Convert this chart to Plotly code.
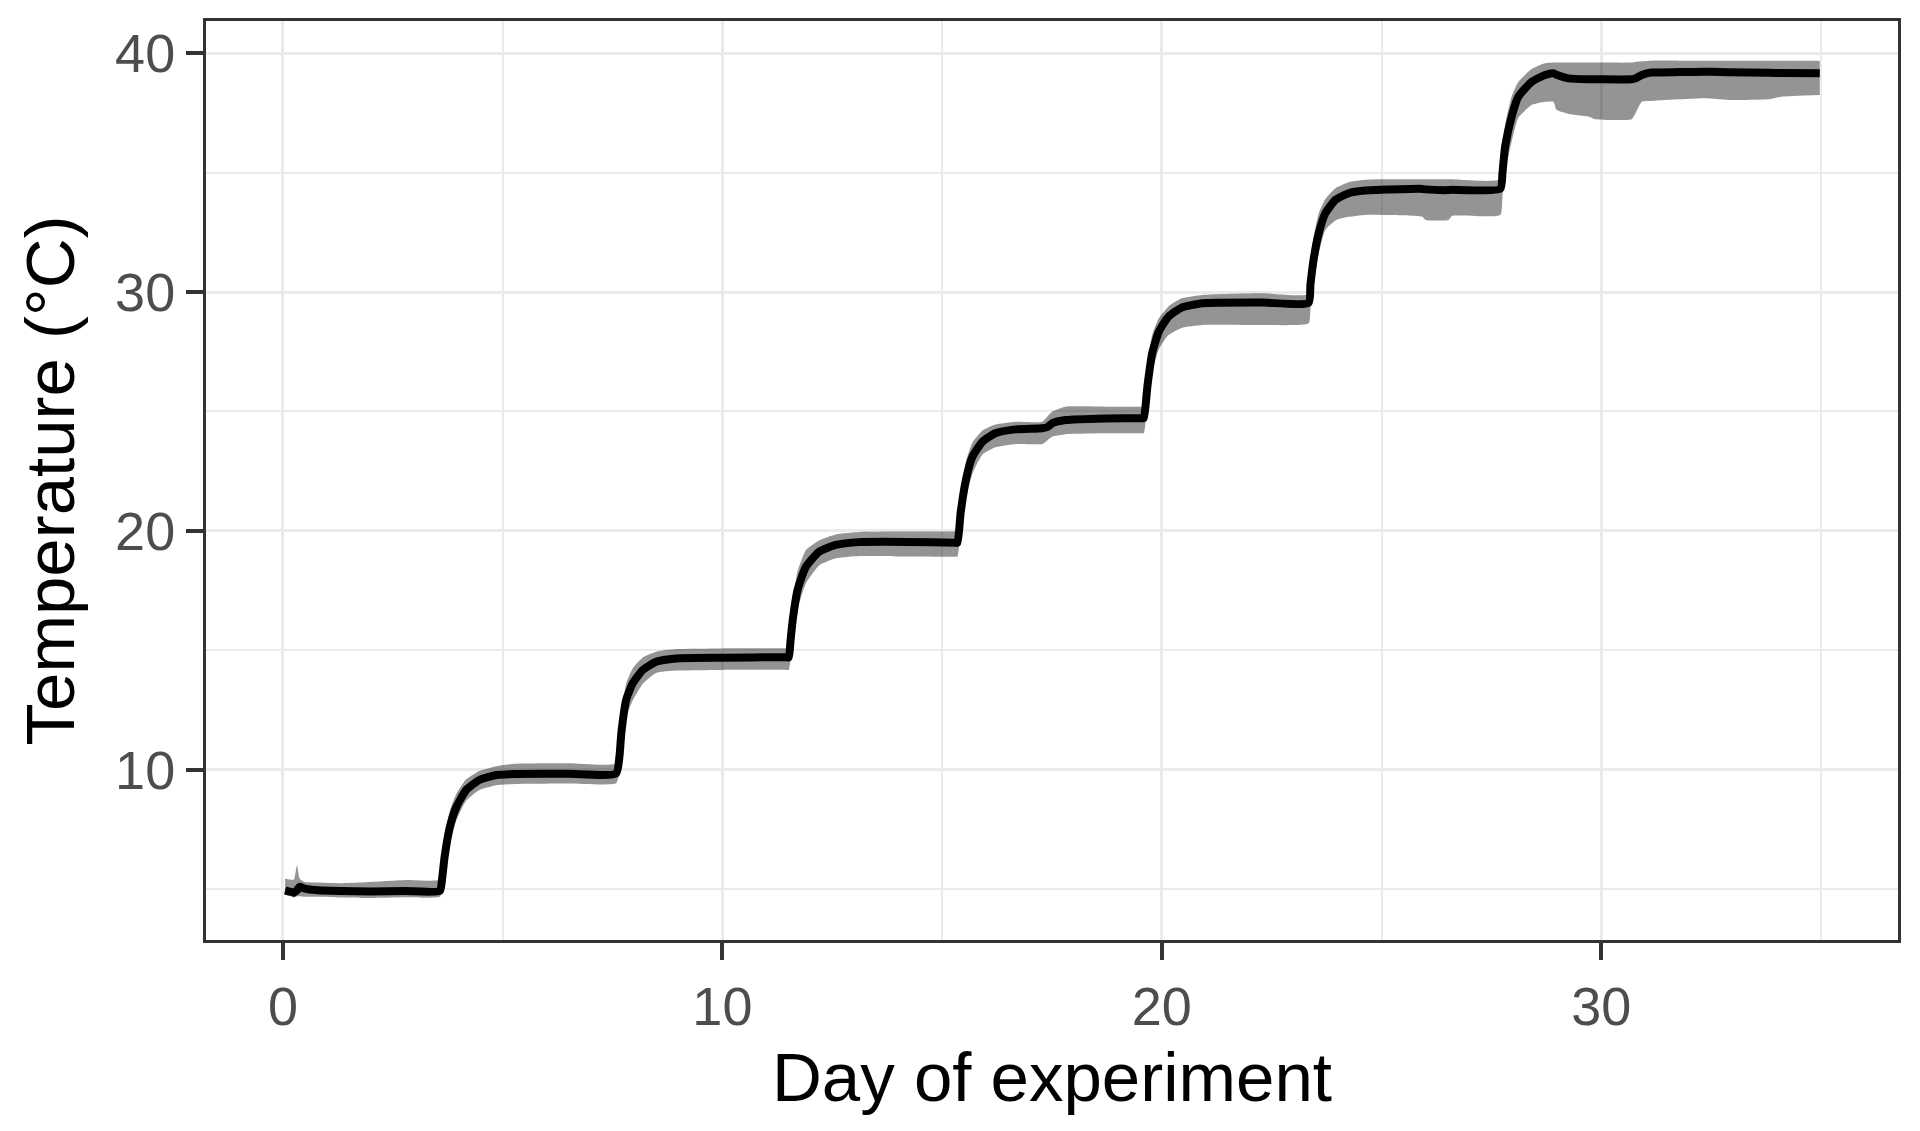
import plotly.graph_objects as go

# ---- data ----
day = [
    0.05, 0.15, 0.25, 0.32, 0.38, 0.5, 0.8, 1.3, 2.0, 2.8, 3.57,
    3.62, 3.68, 3.8, 3.95, 4.17, 4.47, 4.86, 5.3, 6.5, 7.58,
    7.66, 7.7, 7.81, 7.96, 8.19, 8.49, 8.95, 10.0, 11.45,
    11.51, 11.55, 11.6, 11.71, 11.9, 12.2, 12.58, 13.11, 14.2, 15.31,
    15.35, 15.42, 15.54, 15.69, 15.92, 16.21, 16.67, 17.28, 17.4, 17.51, 17.81, 18.72, 19.55,
    19.59, 19.67, 19.78, 19.93, 20.15, 20.45, 20.92, 22.28, 23.34,
    23.38, 23.45, 23.57, 23.72, 23.95, 24.25, 24.63, 25.0, 25.92, 26.0, 26.52, 26.6, 27.7,
    27.75, 27.81, 27.96, 28.11, 28.42, 28.72, 28.91, 28.98, 29.25, 29.7, 29.86, 30.69, 30.78,
    30.92, 31.14, 31.75, 32.36, 32.5, 32.89, 33.8, 34.1, 34.97,
]
temp_mean = [
    4.95, 4.90, 4.85, 4.95, 5.10, 5.02, 4.95, 4.92, 4.90, 4.92, 4.92,
    5.4, 6.36, 7.61, 8.45, 9.15, 9.57, 9.78, 9.82, 9.83, 9.84,
    10.6, 11.52, 12.92, 13.62, 14.18, 14.52, 14.66, 14.69, 14.71,
    14.7, 15.4, 16.27, 17.53, 18.5, 19.13, 19.41, 19.53, 19.54, 19.5,
    19.5, 20.74, 22.13, 23.11, 23.74, 24.09, 24.25, 24.3, 24.35, 24.51, 24.64, 24.71, 24.72,
    24.72, 26.04, 27.44, 28.34, 28.97, 29.35, 29.53, 29.56, 29.55,
    30.3, 31.34, 32.46, 33.3, 33.86, 34.14, 34.25, 34.28, 34.32, 34.3, 34.27, 34.28, 34.32,
    35.0, 36.09, 37.35, 38.18, 38.81, 39.09, 39.16, 39.1, 38.95, 38.91, 38.91, 38.91, 38.95,
    39.09, 39.19, 39.21, 39.22, 39.22, 39.2, 39.18, 39.17, 39.16,
]
temp_upper = [
    5.45, 5.40, 5.40, 6.00, 5.45, 5.30, 5.28, 5.25, 5.30, 5.38, 5.40,
    6.2, 7.2, 8.3, 9.0, 9.6, 9.95, 10.15, 10.25, 10.27, 10.27,
    11.4, 12.3, 13.6, 14.25, 14.7, 14.94, 15.05, 15.08, 15.08,
    15.08, 16.2, 17.1, 18.3, 19.2, 19.6, 19.85, 19.95, 19.97, 19.97,
    19.97, 21.6, 22.9, 23.7, 24.2, 24.45, 24.57, 24.57, 24.8, 25.0, 25.2, 25.2, 25.2,
    25.2, 27.0, 28.2, 28.9, 29.4, 29.74, 29.88, 29.95, 29.92,
    31.3, 32.3, 33.3, 33.9, 34.35, 34.6, 34.7, 34.72, 34.72, 34.72, 34.72, 34.72, 34.72,
    35.9, 37.0, 38.2, 38.8, 39.35, 39.58, 39.61, 39.61, 39.61, 39.61, 39.61, 39.61, 39.63,
    39.66, 39.69, 39.69, 39.69, 39.69, 39.69, 39.69, 39.69, 39.69,
]
temp_lower = [
    4.75, 4.72, 4.65, 4.70, 4.70, 4.68, 4.68, 4.65, 4.63, 4.66, 4.68,
    5.0, 5.7, 6.9, 7.9, 8.7, 9.15, 9.35, 9.4, 9.42, 9.43,
    9.9, 10.8, 12.2, 12.9, 13.6, 14.05, 14.15, 14.18, 14.18,
    14.18, 14.6, 15.4, 16.7, 17.8, 18.55, 18.85, 18.95, 18.93, 18.92,
    18.92, 19.9, 21.3, 22.4, 23.2, 23.5, 23.64, 23.64, 23.8, 23.95, 24.05, 24.09, 24.09,
    24.09, 25.2, 26.6, 27.6, 28.2, 28.5, 28.62, 28.62, 28.69,
    29.3, 30.3, 31.6, 32.6, 33.0, 33.15, 33.23, 33.23, 33.16, 33.02, 33.02, 33.19, 33.23,
    34.0, 35.0, 36.3, 37.3, 37.84, 37.97, 37.97, 37.63, 37.46, 37.35, 37.24, 37.24, 37.5,
    37.97, 38.0, 38.07, 38.12, 38.1, 38.04, 38.07, 38.18, 38.25,
]

x_ticks = [0, 10, 20, 30]
y_ticks = [10, 20, 30, 40]

FONT = "Arial, Liberation Sans, sans-serif"

fig = go.Figure()
fig.add_trace(go.Scatter(
    x=day, y=temp_upper, mode="lines", line=dict(width=0, color="rgba(0,0,0,0)", shape="spline", smoothing=0.5),
    showlegend=False, hoverinfo="skip"))
fig.add_trace(go.Scatter(
    x=day, y=temp_lower, mode="lines", line=dict(width=0, color="rgba(0,0,0,0)", shape="spline", smoothing=0.5),
    fill="tonexty", fillcolor="rgba(0,0,0,0.42)", showlegend=False, hoverinfo="skip"))
fig.add_trace(go.Scatter(
    x=day, y=temp_mean, mode="lines",
    line=dict(width=8, color="#000000", shape="spline", smoothing=0.5),
    showlegend=False))

axis_common = dict(
    showline=True, mirror=True, linecolor="#333333", linewidth=3,
    ticks="outside", ticklen=17, tickwidth=4, tickcolor="#333333",
    showgrid=True, gridcolor="#EBEBEB", gridwidth=2.5,
    zeroline=False,
    tickfont=dict(family=FONT, size=54, color="#4D4D4D"),
    minor=dict(dtick=5, showgrid=True, gridcolor="#EBEBEB", gridwidth=2, ticks=""),
)

# page body has an 8px margin, so the figure is placed at (8, 8)
fig.update_layout(
    width=1904, height=1115,
    margin=dict(l=198, r=14, t=13, b=183),
    plot_bgcolor="white", paper_bgcolor="white",
    font=dict(family=FONT),
    xaxis=dict(range=[-1.75, 36.75], tickvals=x_ticks,
               title=dict(text="Day of experiment", font=dict(family=FONT, size=69, color="#000000"), standoff=18),
               automargin=False, **axis_common),
    yaxis=dict(range=[2.87, 41.35], tickvals=y_ticks,
               title=dict(text="Temperature (°C)", font=dict(family=FONT, size=69, color="#000000"), standoff=18),
               automargin=False, **axis_common),
)

fig.write_html("out.html")
